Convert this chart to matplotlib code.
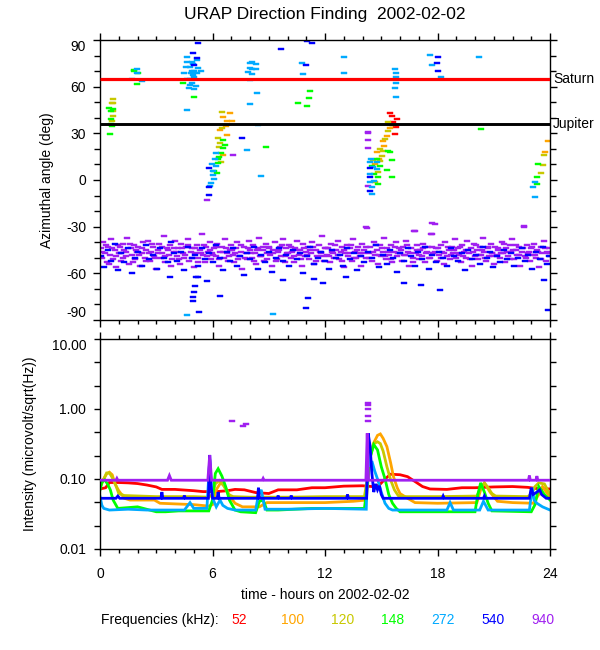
import numpy as np
import matplotlib
matplotlib.use('Agg')
import matplotlib.pyplot as plt
from matplotlib.ticker import FixedLocator, FixedFormatter

plt.rcParams['font.family'] = ['Liberation Sans', 'DejaVu Sans']

freqs = [52, 100, 120, 148, 272, 540, 940]
colors = ['#ff0000', '#ffa500', '#c8c800', '#00ff00', '#00aaff', '#0000ff', '#a020f0']

# ---- top panel: direction finding (hour, azimuth deg) ----
h52 = [15.47, 15.55, 15.86, 15.6, 15.77, 15.75, 15.65]
a52 = [43.1, 40.9, 39.4, 37.0, 33.8, 29.4, 35.5]

h100 = [6.93, 6.54, 7.04, 6.76, 6.72, 6.4, 6.79, 6.58,
        15.47, 15.29, 15.08, 15.15, 14.79, 14.9, 14.67, 23.9, 23.74]
a100 = [43.1, 40.7, 38.1, 37.9, 34.5, 32.3, 29.1, 16.0,
        33.4, 28.5, 25.3, 22.0, 17.7, 13.7, 10.3, 24.8, 17.8]

h120 = [0.71, 0.62, 0.71, 0.68, 0.68, 0.62, 6.52, 6.49, 6.31, 6.4, 6.36, 6.44,
        15.38, 15.56, 15.38, 15.2, 14.93, 15.11, 15.02, 14.93, 14.58, 14.85, 14.67,
        23.7, 23.6, 23.5]
a120 = [52.1, 49.5, 49.5, 44.2, 41.4, 38.1, 43.7, 33.2, 27.0, 23.8, 21.4, 11.8,
        37.4, 35.5, 31.7, 26.3, 19.9, 18.4, 15.6, 12.4, 13.0, 4.9, -1.5,
        16.0, 9.4, 4.3]

h148 = [0.48, 0.71, 0.57, 0.57, 0.57, 0.62, 0.53, 1.81, 1.83, 2.04, 1.96, 4.44, 5.01,
        11.2, 11.16, 10.58, 11.02, 8.85,
        6.58, 6.67, 6.54, 6.44, 6.35, 6.28, 6.28, 6.08, 6.22,
        15.38, 15.47, 15.56, 14.76, 14.49, 14.93, 15.29, 14.63, 14.85, 14.85, 15.56, 20.3,
        23.35, 23.3, 23.3]
a148 = [46.3, 45.6, 44.6, 39.2, 36.0, 34.9, 29.6, 70.7, 69.9, 68.6, 61.7, 62.4, 53.4,
        57.2, 52.5, 49.3, 47.6, 21.4,
        25.7, 22.7, 20.3, 17.1, 14.9, 13.5, 10.7, 5.6, 4.7,
        18.8, 17.7, 12.8, 13.5, 9.2, 9.2, 6.4, 3.8, 1.7, -2.6, 2.1, 32.8,
        10.3, 1.7, -2.6]

h272 = [1.69, 1.96, 1.99, 2.26,
        4.66, 4.89, 4.62, 4.57, 4.8, 4.98, 5.16, 5.21, 4.89, 5.01, 4.85, 4.98, 5.16,
        4.62, 4.8, 5.01, 4.92, 4.8, 4.75, 5.01, 4.66, 5.39, 4.48, 5.12,
        8.0, 8.09, 8.32, 8.0, 8.11, 7.91, 8.12, 8.32, 8.0, 8.36, 8.0, 8.41,
        10.77, 10.81, 7.82, 8.59,
        6.19, 6.13, 5.96, 6.19, 6.04, 6.01, 6.08, 5.92, 5.87,
        13.0, 13.0, 17.6, 17.7, 18.2, 20.2, 15.73, 15.77, 15.79, 15.79, 15.73, 15.77,
        14.44, 14.4, 14.76, 14.58, 14.76, 14.4, 14.63, 14.4, 14.49, 14.49,
        23.2, 23.1, 23.2, 4.62, 9.2]
a272 = [65.0, 71.4, 68.6, 63.9,
        78.9, 75.7, 75.7, 72.9, 72.9, 74.6, 77.2, 72.0, 69.9, 69.9, 68.6, 67.8, 68.6,
        65.0, 65.0, 66.0, 62.4, 61.3, 59.1, 58.5, 45.0, 69.9, 68.6, 60.6,
        75.2, 75.7, 74.6, 72.0, 71.4, 69.2, 68.2, 71.4, 64.3, 55.7, 48.9, 35.3,
        75.2, 68.0, 19.3, 2.6,
        17.1, 13.5, 10.3, 9.2, 6.0, 3.4, 0.6, -2.2, -3.7,
        79.3, 68.8, 80.4, 73.9, 66.0, 79.3, 71.4, 68.7, 66.0, 62.1, 59.1, 53.1,
        13.5, 11.3, 11.3, 8.1, 7.1, 3.8, -0.5, -1.5, -4.8, -8.7,
        -1.5, -4.8, -11.2, -86.6, -86.2]

h540 = [5.21, 4.98, 5.19, 5.01, 9.64, 10.97, 11.31, 11.02, 7.56, 5.83, 5.83, 5.8,
        14.4, 14.4, 14.4, 18.0, 17.95, 18.0,
        5.1, 5.25, 5.06, 5.0, 4.98, 4.95, 5.3, 6.4, 11.07, 10.97, 11.4, 11.9, 9.74,
        5.69, 3.73, 18.13, 17.1, 16.2, 13.1, 23.7, 23.9,
        0.05, 0.22, 0.4, 0.58, 0.8, 0.95, 1.1, 1.28, 1.5, 1.7, 1.88,
        2.05, 2.25, 2.45, 2.62, 2.85, 3.05, 3.2, 3.4, 3.62, 3.8, 3.95,
        4.12, 4.3, 4.5, 4.7, 4.88, 5.05, 5.22, 5.45, 5.6, 5.82,
        6.0, 6.2, 6.38, 6.55, 6.75, 6.92, 7.1, 7.3, 7.48, 7.68, 7.85,
        8.02, 8.2, 8.4, 8.6, 8.8, 9.0, 9.18, 9.38, 9.55, 9.75, 9.92,
        10.1, 10.3, 10.48, 10.66, 10.85, 11.02, 11.22, 11.4, 11.6, 11.8,
        12.0, 12.2, 12.38, 12.58, 12.78, 12.95, 13.15, 13.32, 13.52, 13.7, 13.9,
        14.1, 14.3, 14.5, 14.7, 14.9, 15.08, 15.28, 15.45, 15.65, 15.85,
        16.02, 16.22, 16.4, 16.6, 16.8, 16.95, 17.15, 17.35, 17.52, 17.72, 17.9,
        18.1, 18.3, 18.5, 18.7, 18.9, 19.1, 19.28, 19.48, 19.65, 19.85,
        20.05, 20.25, 20.42, 20.62, 20.8, 20.98, 21.15, 21.35, 21.55, 21.72, 21.9,
        22.1, 22.28, 22.48, 22.68, 22.85, 23.05, 23.25, 23.45, 23.62, 23.82, 23.97]
a540 = [87.9, 81.7, 78.4, 74.1, 84.2, 73.9, 87.9, 89.2, 26.8, 7.5, -4.3, -9.9,
        7.7, 1.7, -6.9, 78.9, 75.2, 70.3,
        -62.6, -62.6, -68.0, -72.0, -75.0, -78.0, -85.0, -74.4, -76.0, -82.4, -63.7, -66.3, -64.0,
        -65.0, -62.6, -71.0, -67.3, -66.5, -62.6, -64.0, -83.4,
        -49, -56, -45, -52, -41, -58, -47, -53, -44, -60, -50,
        -46, -55, -42, -51, -48, -57, -44, -50, -53, -40, -47,
        -52, -46, -58, -43, -50, -48, -55, -44, -51, -47,
        -53, -42, -50, -58, -46, -52, -44, -55, -49, -61, -47,
        -51, -43, -57, -48, -53, -46, -59, -50, -44, -52, -48,
        -55, -45, -51, -47, -60, -49, -43, -54, -50, -46,
        -52, -57, -45, -50, -48, -55, -44, -51, -47, -58, -49,
        -53, -46, -50, -42, -56, -48, -54, -45, -50, -59,
        -47, -52, -44, -49, -55, -46, -51, -43, -57, -48, -53,
        -46, -50, -55, -44, -49, -52, -47, -58, -45, -51,
        -48, -54, -43, -50, -46, -56, -49, -53, -45, -51, -47,
        -55, -50, -44, -52, -48, -57, -46, -51, -43, -54, -49]

h940 = [7.11, 5.72, 14.28, 14.28, 14.28, 14.28, 14.28, 14.2, 17.7, 22.6, 16.8, 17.7,
        0.03, 0.12, 0.18, 0.27, 0.36, 0.44, 0.52, 0.61, 0.70, 0.78, 0.87, 0.95,
        1.04, 1.11, 1.2, 1.29, 1.37, 1.46, 1.55, 1.63, 1.71, 1.8, 1.88, 1.96,
        2.05, 2.13, 2.22, 2.3, 2.39, 2.47, 2.56, 2.64, 2.73, 2.81, 2.9, 2.98,
        3.07, 3.15, 3.24, 3.32, 3.41, 3.49, 3.58, 3.66, 3.75, 3.83, 3.92, 3.99,
        4.08, 4.16, 4.25, 4.33, 4.42, 4.5, 4.59, 4.67, 4.76, 4.84, 4.93, 4.99,
        5.08, 5.16, 5.25, 5.33, 5.42, 5.5, 5.59, 5.67, 5.76, 5.84, 5.93, 5.99,
        6.08, 6.16, 6.25, 6.33, 6.42, 6.5, 6.59, 6.67, 6.76, 6.84, 6.93, 6.99,
        7.08, 7.16, 7.25, 7.33, 7.42, 7.5, 7.59, 7.67, 7.76, 7.84, 7.93, 7.99,
        8.08, 8.16, 8.25, 8.33, 8.42, 8.5, 8.59, 8.67, 8.76, 8.84, 8.93, 8.99,
        9.08, 9.16, 9.25, 9.33, 9.42, 9.5, 9.59, 9.67, 9.76, 9.84, 9.93, 9.99,
        10.08, 10.16, 10.25, 10.33, 10.42, 10.5, 10.59, 10.67, 10.76, 10.84, 10.93, 10.99,
        11.08, 11.16, 11.25, 11.33, 11.42, 11.5, 11.59, 11.67, 11.76, 11.84, 11.93, 11.99,
        12.08, 12.16, 12.25, 12.33, 12.42, 12.5, 12.59, 12.67, 12.76, 12.84, 12.93, 12.99,
        13.08, 13.16, 13.25, 13.33, 13.42, 13.5, 13.59, 13.67, 13.76, 13.84, 13.93, 13.99,
        14.08, 14.16, 14.25, 14.33, 14.42, 14.5, 14.59, 14.67, 14.76, 14.84, 14.93, 14.99,
        15.08, 15.16, 15.25, 15.33, 15.42, 15.5, 15.59, 15.67, 15.76, 15.84, 15.93, 15.99,
        16.08, 16.16, 16.25, 16.33, 16.42, 16.5, 16.59, 16.67, 16.76, 16.84, 16.93, 16.99,
        17.08, 17.16, 17.25, 17.33, 17.42, 17.5, 17.59, 17.67, 17.76, 17.84, 17.93, 17.99,
        18.08, 18.16, 18.25, 18.33, 18.42, 18.5, 18.59, 18.67, 18.76, 18.84, 18.93, 18.99,
        19.08, 19.16, 19.25, 19.33, 19.42, 19.5, 19.59, 19.67, 19.76, 19.84, 19.93, 19.99,
        20.08, 20.16, 20.25, 20.33, 20.42, 20.5, 20.59, 20.67, 20.76, 20.84, 20.93, 20.99,
        21.08, 21.16, 21.25, 21.33, 21.42, 21.5, 21.59, 21.67, 21.76, 21.84, 21.93, 21.99,
        22.08, 22.16, 22.25, 22.33, 22.42, 22.5, 22.59, 22.67, 22.76, 22.84, 22.93, 22.99,
        23.08, 23.16, 23.25, 23.33, 23.42, 23.5, 23.59, 23.67, 23.76, 23.84, 23.93, 23.99]
a940 = [16.2, -12.6, 31.1, 30.0, 25.7, 20.3, -4.1, -30.5, -27.7, -29.8, -33.0, -34.7,
        -44, -50, -40, -47, -53, -43, -48, -38, -51, -45, -56, -42,
        -47, -52, -41, -45, -49, -37, -54, -44, -48, -42, -51, -46,
        -43, -55, -47, -40, -50, -45, -39, -52, -46, -43, -49, -57,
        -45, -41, -50, -47, -36, -53, -44, -48, -42, -51, -46, -39,
        -49, -44, -54, -41, -47, -50, -43, -38, -52, -46, -44, -56,
        -47, -42, -50, -45, -35, -48, -53, -43, -46, -40, -51, -47,
        -44, -49, -41, -55, -46, -43, -50, -38, -47, -52, -45, -42,
        -48, -53, -44, -40, -49, -46, -57, -43, -47, -51, -39, -45,
        -50, -42, -47, -54, -44, -37, -49, -45, -52, -41, -47, -43,
        -48, -55, -45, -40, -51, -46, -43, -49, -38, -53, -44, -47,
        -42, -50, -46, -53, -44, -39, -48, -45, -55, -41, -49, -46,
        -43, -51, -47, -40, -54, -45, -49, -42, -47, -36, -52, -44,
        -48, -44, -53, -41, -47, -50, -45, -39, -51, -46, -43, -56,
        -47, -42, -49, -44, -52, -38, -46, -50, -43, -47, -55, -41,
        -45, -50, -31, -47, -43, -52, -40, -48, -45, -54, -42, -49,
        -46, -37, -51, -44, -48, -42, -53, -46, -40, -49, -44, -47,
        -52, -43, -48, -39, -46, -55, -44, -50, -33, -47, -42, -51,
        -45, -49, -41, -53, -46, -43, -50, -35, -47, -28, -44, -52,
        -48, -42, -46, -54, -40, -49, -45, -51, -43, -47, -38, -50,
        -44, -48, -53, -42, -46, -50, -39, -47, -44, -55, -41, -49,
        -45, -51, -43, -48, -37, -46, -52, -44, -49, -41, -47, -54,
        -43, -48, -45, -50, -40, -47, -53, -44, -49, -42, -46, -38,
        -51, -45, -48, -43, -55, -46, -30, -49, -42, -47, -52, -44,
        -48, -41, -50, -45, -56, -43, -47, -39, -52, -46, -44, -49]

# second layer of 940 kHz points filling the band
h940b = [0.08, 0.31, 0.48, 0.66, 0.83, 0.99, 1.07, 1.24, 1.41, 1.58, 1.75, 1.92,
         2.09, 2.26, 2.43, 2.6, 2.77, 2.94, 3.11, 3.28, 3.45, 3.62, 3.79, 3.96,
         4.03, 4.2, 4.37, 4.54, 4.71, 4.88, 5.05, 5.21, 5.38, 5.55, 5.72, 5.89,
         6.03, 6.2, 6.37, 6.54, 6.71, 6.88, 7.03, 7.2, 7.37, 7.54, 7.71, 7.88,
         8.03, 8.2, 8.37, 8.54, 8.71, 8.88, 9.03, 9.2, 9.37, 9.54, 9.71, 9.88,
         10.03, 10.2, 10.37, 10.54, 10.71, 10.88, 11.03, 11.2, 11.37, 11.54, 11.71, 11.88,
         12.03, 12.2, 12.37, 12.54, 12.71, 12.88, 13.03, 13.2, 13.37, 13.54, 13.71, 13.88,
         14.03, 14.2, 14.37, 14.54, 14.71, 14.88, 15.03, 15.2, 15.37, 15.54, 15.71, 15.88,
         16.03, 16.2, 16.37, 16.54, 16.71, 16.88, 17.03, 17.2, 17.37, 17.54, 17.71, 17.88,
         18.03, 18.2, 18.37, 18.54, 18.71, 18.88, 19.03, 19.2, 19.37, 19.54, 19.71, 19.88,
         20.03, 20.2, 20.37, 20.54, 20.71, 20.88, 21.03, 21.2, 21.37, 21.54, 21.71, 21.88,
         22.03, 22.2, 22.37, 22.54, 22.71, 22.88, 23.03, 23.2, 23.37, 23.54, 23.71, 23.88]
a940b = [-46, -42, -54, -44, -49, -47, -43, -50, -46, -41, -53, -45,
         -48, -44, -52, -47, -41, -50, -47, -43, -49, -45, -55, -44,
         -46, -51, -44, -48, -42, -50, -44, -53, -47, -42, -49, -45,
         -48, -43, -51, -46, -44, -49, -45, -47, -51, -42, -50, -44,
         -47, -52, -45, -49, -43, -51, -44, -47, -52, -45, -42, -49,
         -47, -43, -49, -45, -51, -44, -48, -45, -43, -52, -46, -49,
         -44, -49, -46, -42, -48, -52, -45, -47, -42, -50, -45, -49,
         -47, -43, -50, -46, -42, -48, -44, -49, -46, -51, -43, -47,
         -45, -48, -42, -47, -53, -45, -48, -44, -47, -50, -43, -46,
         -44, -50, -47, -43, -48, -45, -47, -43, -49, -45, -51, -46,
         -42, -48, -45, -50, -43, -47, -49, -44, -47, -41, -46, -51,
         -45, -42, -48, -44, -50, -46, -43, -48, -46, -51, -44, -47]

saturn_t = [0.0, 1.45, 1.45, 24.0]
saturn_a = [64.6, 64.6, 65.1, 65.1]
jupiter_t = [0.0, 24.0]
jupiter_a = [36.1, 36.1]

# ---- bottom panel: intensity (microvolt/sqrt(Hz)) ----
t52 = [0.0, 0.3, 0.5, 1.0, 1.5, 2.0, 2.5, 3.0, 3.3, 4.0, 5.0, 5.5, 6.2, 6.8, 7.2, 7.7, 8.3, 9.0,
       9.5, 10.5, 11.3, 12.0, 13.0, 14.0, 14.5, 14.9, 15.2, 15.5, 16.0, 16.4, 16.8, 17.2, 17.6,
       18.5, 19.3, 20.0, 21.0, 22.0, 22.8, 23.3, 24.0]
v52 = [0.072, 0.075, 0.089, 0.089, 0.088, 0.086, 0.082, 0.077, 0.071, 0.071, 0.068, 0.066, 0.066,
       0.068, 0.071, 0.070, 0.064, 0.062, 0.070, 0.070, 0.075, 0.075, 0.079, 0.080, 0.078, 0.082,
       0.100, 0.117, 0.115, 0.108, 0.092, 0.078, 0.072, 0.071, 0.075, 0.075, 0.077, 0.078, 0.076,
       0.073, 0.072]

t100 = [0.0, 0.2, 0.35, 0.5, 0.65, 0.8, 1.0, 1.3, 1.6, 2.9, 3.2, 5.0, 5.8, 6.0, 6.2, 6.45, 6.7,
        6.95, 7.2, 7.6, 8.5, 8.9, 10.0, 12.0, 13.5, 14.2, 14.4, 14.6, 14.8, 14.95, 15.1, 15.3,
        15.5, 15.65, 15.85, 16.0, 16.4, 16.8, 18.0, 20.1, 20.3, 20.5, 20.8, 21.2, 22.0, 23.1,
        23.4, 23.6, 23.8, 24.0]
v100 = [0.09, 0.10, 0.118, 0.125, 0.115, 0.085, 0.068, 0.053, 0.05, 0.05, 0.045, 0.043, 0.041,
        0.043, 0.07, 0.09, 0.075, 0.055, 0.045, 0.040, 0.040, 0.046, 0.046, 0.046, 0.048, 0.05,
        0.21, 0.33, 0.42, 0.44, 0.38, 0.29, 0.17, 0.108, 0.075, 0.062, 0.053, 0.046, 0.045,
        0.046, 0.07, 0.088, 0.065, 0.048, 0.046, 0.045, 0.06, 0.078, 0.065, 0.055]

t120 = [0.0, 0.2, 0.35, 0.5, 0.65, 0.8, 1.0, 1.3, 3.0, 5.0, 5.8, 6.0, 6.15, 6.35, 6.6, 6.85, 7.1,
        8.0, 10.0, 12.0, 14.1, 14.25, 14.4, 14.6, 14.8, 14.95, 15.1, 15.3, 15.5, 15.7, 15.9,
        16.2, 18.0, 20.1, 20.3, 20.5, 20.7, 20.9, 21.1, 22.8, 23.0, 23.2, 23.4, 23.7, 24.0]
v120 = [0.074, 0.10, 0.122, 0.122, 0.105, 0.087, 0.062, 0.058, 0.056, 0.056, 0.055, 0.06, 0.085,
        0.095, 0.08, 0.06, 0.056, 0.055, 0.055, 0.056, 0.056, 0.1, 0.2, 0.32, 0.34, 0.32, 0.25,
        0.15, 0.097, 0.07, 0.058, 0.056, 0.056, 0.057, 0.075, 0.088, 0.075, 0.062, 0.057, 0.056,
        0.06, 0.078, 0.088, 0.085, 0.06]

t148 = [0.0, 0.1, 0.25, 0.4, 0.55, 0.7, 0.95, 1.5, 2.0, 3.0, 3.5, 4.2, 5.8, 6.0, 6.15, 6.3, 6.5,
        6.7, 6.9, 7.2, 7.5, 8.3, 8.5, 8.7, 8.9, 9.5, 11.3, 14.1, 14.25, 14.4, 14.6, 14.8, 15.0,
        15.2, 15.4, 15.6, 15.8, 16.0, 20.0, 20.15, 20.3, 20.5, 20.7, 20.9, 23.0, 23.2, 23.4,
        23.7, 24.0]
v148 = [0.07, 0.09, 0.097, 0.085, 0.07, 0.05, 0.038, 0.039, 0.04, 0.034, 0.034, 0.035, 0.035,
        0.05, 0.12, 0.14, 0.11, 0.078, 0.05, 0.036, 0.034, 0.033, 0.048, 0.05, 0.036, 0.036,
        0.038, 0.038, 0.08, 0.2, 0.31, 0.26, 0.15, 0.1, 0.06, 0.045, 0.038, 0.034, 0.034, 0.06,
        0.088, 0.065, 0.045, 0.035, 0.034, 0.043, 0.078, 0.06, 0.05]

t272 = [0.0, 0.1, 0.2, 0.5, 1.5, 2.5, 4.5, 4.8, 5.0, 5.7, 5.85, 5.95, 6.05, 6.2, 6.4, 6.55, 6.8,
        7.2, 8.3, 8.45, 8.6, 8.8, 10.0, 12.0, 14.2, 14.3, 14.4, 14.5, 14.65, 14.8, 15.0, 15.2,
        15.4, 15.6, 18.5, 18.67, 18.85, 20.25, 20.45, 20.7, 22.9, 23.05, 23.15, 23.3, 23.6, 24.0]
v272 = [0.056, 0.042, 0.038, 0.036, 0.037, 0.036, 0.036, 0.046, 0.038, 0.038, 0.19, 0.07, 0.05,
        0.04, 0.05, 0.042, 0.038, 0.036, 0.036, 0.06, 0.07, 0.037, 0.037, 0.038, 0.037, 0.3,
        0.15, 0.18, 0.13, 0.1, 0.065, 0.045, 0.038, 0.036, 0.036, 0.046, 0.036, 0.036, 0.048,
        0.036, 0.036, 0.075, 0.05, 0.045, 0.04, 0.036]

t540 = [0.0, 0.85, 0.95, 1.05, 3.25, 3.3, 3.35, 4.45, 4.5, 4.55, 5.78, 5.85, 5.92, 6.0, 6.25,
        6.3, 6.35, 8.4, 8.45, 8.5, 9.45, 9.5, 9.55, 10.15, 10.2, 10.25, 13.15, 13.2, 13.25,
        14.22, 14.3, 14.4, 14.5, 14.6, 14.7, 14.8, 14.9, 15.0, 15.1, 18.25, 18.3, 18.35, 20.45,
        20.5, 20.55, 22.9, 23.0, 23.1, 23.3, 23.45, 23.55, 23.8, 24.0]
v540 = [0.053, 0.053, 0.057, 0.053, 0.053, 0.065, 0.053, 0.053, 0.058, 0.053, 0.053, 0.22, 0.08,
        0.053, 0.053, 0.065, 0.053, 0.053, 0.075, 0.053, 0.053, 0.058, 0.053, 0.053, 0.058,
        0.053, 0.053, 0.06, 0.053, 0.053, 0.45, 0.3, 0.12, 0.065, 0.085, 0.07, 0.08, 0.06, 0.053,
        0.053, 0.057, 0.053, 0.053, 0.057, 0.053, 0.053, 0.075, 0.06, 0.065, 0.07, 0.06, 0.053,
        0.053]

t940 = [0.0, 0.85, 0.9, 0.95, 3.6, 3.7, 3.8, 5.75, 5.85, 5.95, 8.65, 8.7, 8.75, 14.18, 14.25,
        14.32, 22.85, 22.9, 22.95, 23.25, 23.3, 23.35, 24.0]
v940 = [0.096, 0.096, 0.102, 0.096, 0.096, 0.112, 0.096, 0.096, 0.22, 0.096, 0.096, 0.102, 0.096,
        0.096, 0.45, 0.096, 0.096, 0.112, 0.096, 0.096, 0.11, 0.096, 0.096]
p940_t = [7.02, 7.64, 7.77, 14.28, 14.28, 14.28, 14.28, 14.28]
p940_v = [0.68, 0.57, 0.62, 1.23, 1.14, 1.0, 0.80, 0.68]

fig = plt.figure(figsize=(6, 6.5), dpi=100)
ax1 = fig.add_axes([0.1667, 0.5077, 0.75, 0.4308])
ax2 = fig.add_axes([0.1667, 0.1554, 0.75, 0.3231])

dash = [(-1, -0.42), (1, -0.42), (1, 0.42), (-1, 0.42), (-1, -0.42)]
top_h = [h52, h100, h120, h148, h272, h540, h940 + h940b]
top_a = [a52, a100, a120, a148, a272, a540, a940 + a940b]
for i in [6, 0, 1, 2, 3, 4, 5]:
    ax1.scatter(top_h[i], top_a[i], marker=dash, s=13, c=colors[i], linewidths=0.3,
                edgecolors=colors[i], zorder=2)

ax1.plot(saturn_t, saturn_a, color='#ff0000', lw=2.3, zorder=3, solid_capstyle='butt')
ax1.plot(jupiter_t, jupiter_a, color='black', lw=2.1, zorder=3, solid_capstyle='butt')
ax1.text(24.15, 65.1, 'Saturn', fontsize=10, va='center', ha='left', clip_on=False)
ax1.text(24.15, 36.1, 'Jupiter', fontsize=10, va='center', ha='left', clip_on=False)

ax1.set_xlim(0, 24)
ax1.set_ylim(-90, 90)
ax1.xaxis.set_major_locator(FixedLocator([0, 6, 12, 18, 24]))
ax1.xaxis.set_minor_locator(FixedLocator(list(range(25))))
ax1.yaxis.set_major_locator(FixedLocator([-90, -60, -30, 0, 30, 60, 90]))
ax1.yaxis.set_minor_locator(FixedLocator(list(range(-90, 91, 10))))
ax1.tick_params(which='both', direction='out', top=True, right=True, labelbottom=False,
                labelsize=10, width=1)
ax1.tick_params(axis='x', which='major', length=5)
ax1.tick_params(axis='x', which='minor', length=3)
ax1.tick_params(axis='y', which='major', length=5, pad=5)
ax1.tick_params(axis='y', which='minor', length=4)
ax1.set_yticklabels(['-90', '-60', '-30', '0', '30', '60', '90'])
ylabs = ax1.get_yticklabels()
ylabs[-1].set_va('top')
ylabs[0].set_va('bottom')

series_t = [t52, t100, t120, t148, t272, t540, t940]
series_v = [v52, v100, v120, v148, v272, v540, v940]
for i in range(7):
    ax2.plot(series_t[i], series_v[i], color=colors[i], lw=2.0, zorder=2 + i * 0.1,
             solid_joinstyle='miter')
ax2.scatter(p940_t, p940_v, marker=dash, s=13, c=colors[6], linewidths=0.3,
            edgecolors=colors[6], zorder=3)

ax2.set_yscale('log')
ax2.set_xlim(0, 24)
ax2.set_ylim(0.01, 10)
ax2.xaxis.set_major_locator(FixedLocator([0, 6, 12, 18, 24]))
ax2.xaxis.set_minor_locator(FixedLocator(list(range(25))))
ax2.set_xticklabels(['0', '6', '12', '18', '24'])
ax2.yaxis.set_major_locator(FixedLocator([0.01, 0.1, 1.0, 10.0]))
ax2.yaxis.set_major_formatter(FixedFormatter(['0.01', '0.10', '1.00', '10.00']))
ax2.yaxis.set_minor_locator(FixedLocator([10 ** (k / 3.0) for k in range(-6, 3) if k % 3 != 0]))
ax2.tick_params(which='both', direction='out', top=True, right=True, labelsize=10, width=1)
ax2.tick_params(axis='x', which='major', length=5, pad=8)
ax2.tick_params(axis='x', which='minor', length=3)
ax2.tick_params(axis='y', which='major', length=4, pad=6)
ax2.tick_params(axis='y', which='minor', length=4)
ylabs2 = ax2.get_yticklabels()
ylabs2[-1].set_va('top')

for ax in (ax1, ax2):
    for sp in ax.spines.values():
        sp.set_linewidth(1.0)

fig.text(0.5417, 0.978, 'URAP Direction Finding  2002-02-02', fontsize=12.5,
         ha='center', va='center')
fig.text(0.078, 0.723, 'Azimuthal angle (deg)', fontsize=10, rotation=90,
         ha='center', va='center')
fig.text(0.05, 0.317, 'Intensity (microvolt/sqrt(Hz))', fontsize=10, rotation=90,
         ha='center', va='center')
fig.text(0.5417, 0.0846, 'time - hours on 2002-02-02', fontsize=10, ha='center', va='center')
fig.text(0.168, 0.0462, 'Frequencies (kHz):', fontsize=10, ha='left', va='center')
for i in range(7):
    fig.text((231 + 50 * i) / 600.0, 0.0462, str(freqs[i]), fontsize=10, color=colors[i],
             ha='left', va='center')

fig.savefig('out.png', dpi=100, facecolor='white')
